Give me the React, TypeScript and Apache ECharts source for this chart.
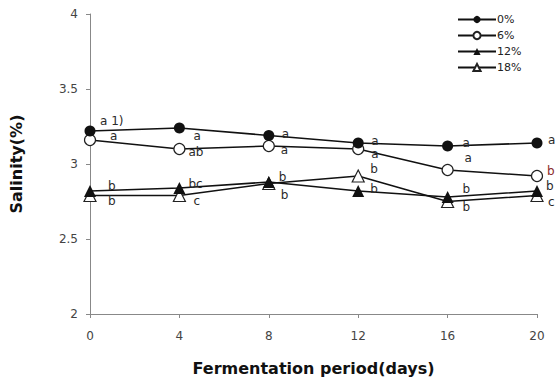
import React, { useEffect, useRef } from "react";
import * as echarts from "echarts";

const days = [0, 4, 8, 12, 16, 20];
const seriesNames = ["0%", "6%", "12%", "18%"];
const salinity0 = [3.22, 3.24, 3.19, 3.14, 3.12, 3.14];
const salinity6 = [3.16, 3.1, 3.12, 3.1, 2.96, 2.92];
const salinity12 = [2.82, 2.84, 2.88, 2.82, 2.78, 2.82];
const salinity18 = [2.79, 2.79, 2.87, 2.92, 2.75, 2.79];
const letters0 = ["a 1)", "a", "a", "a", "a", "a"];
const letters6 = ["a", "ab", "a", "a", "a", "b"];
const letters12 = ["b", "bc", "b", "b", "b", "b"];
const letters18 = ["b", "c", "b", "b", "b", "c"];
const yTicks = [2, 2.5, 3, 3.5, 4];

// label offsets (style, not data)
const offsets0 = [[10, -10], [14, 8], [13, -2], [13, -2], [15, -3], [11, -3]];
const offsets6 = [[20, -4], [9, 3], [12, 4], [13, 5], [17, -12], [10, -5]];
const offsets12 = [[18, -5], [9, -4], [10, -5], [12, -2], [15, -8], [9, -5]];
const offsets18 = [[18, 5], [14, 5], [12, 11], [12, -7], [15, 5], [11, 6]];

const FONT = "DejaVu Sans";
const LABEL_COLOR = "#2a2a2a";

function buildData(vals: number[], letters: string[], offs: number[][], lastColor = LABEL_COLOR) {
  return vals.map((v, i) => ({
    value: [days[i], v],
    label: {
      show: true,
      formatter: letters[i],
      position: "inside",
      align: "left",
      verticalAlign: "middle",
      offset: offs[i],
      color: i === days.length - 1 ? lastColor : LABEL_COLOR,
      textBorderWidth: 0,
      fontSize: 12,
      fontFamily: FONT,
    },
  }));
}

const seriesLabel = { show: true, color: LABEL_COLOR, textBorderWidth: 0, fontSize: 12, fontFamily: FONT };

export default function App() {
  const ref = useRef<HTMLDivElement>(null);
  useEffect(() => {
    if (!ref.current) return;
    const chart = echarts.init(ref.current, undefined, { renderer: "svg" });
    const lineStyle = { color: "#111", width: 1.6 };
    chart.setOption({
      animation: false,
      backgroundColor: "#fff",
      grid: { left: 90, right: 18, top: 14, bottom: 65, containLabel: false },
      legend: {
        orient: "vertical",
        left: 452,
        top: 9,
        itemWidth: 38,
        itemHeight: 9,
        itemGap: 5,
        textStyle: { fontSize: 11, fontFamily: FONT, color: "#222", padding: [0, 0, 0, -4] },
        data: seriesNames,
      },
      xAxis: {
        type: "value",
        min: 0,
        max: 20,
        interval: 4,
        name: "Fermentation period(days)",
        nameLocation: "middle",
        nameGap: 46,
        nameTextStyle: { fontSize: 16, fontWeight: "bold", fontFamily: FONT, color: "#111" },
        axisLine: { show: true, lineStyle: { color: "#888", width: 1 } },
        axisTick: { show: true, length: 4, lineStyle: { color: "#888" } },
        axisLabel: { fontSize: 12, fontFamily: FONT, color: "#444", margin: 16 },
        splitLine: { show: false },
      },
      yAxis: {
        type: "value",
        min: yTicks[0],
        max: yTicks[yTicks.length - 1],
        interval: 0.5,
        name: "Salinity(%)",
        nameLocation: "middle",
        nameGap: 66,
        nameTextStyle: { fontSize: 16, fontWeight: "bold", fontFamily: FONT, color: "#111" },
        axisLine: { show: true, lineStyle: { color: "#888", width: 1 } },
        axisTick: { show: true, length: 4, lineStyle: { color: "#888" } },
        axisLabel: { fontSize: 12, fontFamily: FONT, color: "#444", margin: 12 },
        splitLine: { show: false },
      },
      series: [
        {
          name: seriesNames[0],
          type: "line",
          symbol: "circle",
          symbolSize: 11,
          itemStyle: { color: "#111" },
          lineStyle,
          label: seriesLabel,
          data: buildData(salinity0, letters0, offsets0),
          z: 4,
        },
        {
          name: seriesNames[1],
          type: "line",
          symbol: "circle",
          symbolSize: 11,
          itemStyle: { color: "#fff", borderColor: "#222", borderWidth: 1.2 },
          lineStyle,
          label: seriesLabel,
          data: buildData(salinity6, letters6, offsets6, "#8a2a2a"),
          z: 3,
        },
        {
          name: seriesNames[2],
          type: "line",
          symbol: "triangle",
          symbolSize: 12,
          itemStyle: { color: "#111" },
          lineStyle,
          label: seriesLabel,
          data: buildData(salinity12, letters12, offsets12),
          z: 4,
        },
        {
          name: seriesNames[3],
          type: "line",
          symbol: "triangle",
          symbolSize: 12,
          itemStyle: { color: "#fff", borderColor: "#222", borderWidth: 1.2 },
          lineStyle,
          label: seriesLabel,
          data: buildData(salinity18, letters18, offsets18),
          z: 3,
        },
      ],
    });
    return () => chart.dispose();
  }, []);
  return <div ref={ref} style={{ width: 555, height: 381, position: "absolute", left: 0, top: 0 }} />;
}
